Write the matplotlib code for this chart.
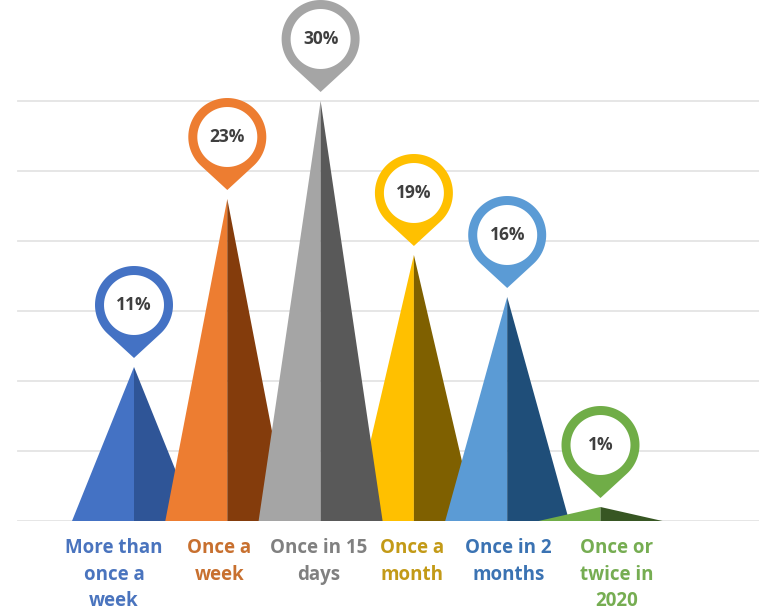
import numpy as np
import matplotlib.pyplot as plt
from matplotlib.patches import Polygon

plt.rcParams['font.family'] = ['Open Sans', 'DejaVu Sans']

categories = ["More than\nonce a\nweek", "Once a\nweek", "Once in 15\ndays",
              "Once a\nmonth", "Once in 2\nmonths", "Once or\ntwice in\n2020"]
shares = [11, 23, 30, 19, 16, 1]

light = ['#4472C4', '#ED7D31', '#A5A5A5', '#FFC000', '#5B9BD5', '#70AD47']
dark = ['#2F5597', '#843C0C', '#595959', '#7F6000', '#1F4E79', '#375623']
label_colors = ['#4A74BE', '#C8702F', '#808080', '#C39A17', '#3B73B3', '#76AD52']
layer = [1, 2, 4, 3, 5, 6]          # gray peak sits in front of its neighbours
label_nudge = [-20, -8, -2, -2, 1, 16]  # px

fig = plt.figure(figsize=(7.59, 6.15), dpi=100)
ax = fig.add_axes([0, 94 / 615, 1, 521 / 615])
ax.set_xlim(-134 / 93.3, (759 - 134) / 93.3)
ax.set_ylim(0, 521 / 14)
ax.axis('off')

# data units per pixel, so pins stay round
p0 = ax.transData.transform((0, 0))
p1 = ax.transData.transform((1, 1))
ux = 1 / (p1[0] - p0[0])
uy = 1 / (p1[1] - p0[1])

for v in range(0, 31, 5):
    ax.plot([-116 * ux, 8], [v, v], color='#E4E4E4', lw=1.3, zorder=0)

hw = 62 * ux
R_out, R_in, tip, gap = 39, 30, 53, 9

for i, (cat, val) in enumerate(zip(categories, shares)):
    z = layer[i]
    ax.add_patch(Polygon([(i - hw, 0), (i, val), (i, 0)], closed=True,
                         facecolor=light[i], edgecolor='none', zorder=z))
    ax.add_patch(Polygon([(i, 0), (i, val), (i + hw, 0)], closed=True,
                         facecolor=dark[i], edgecolor='none', zorder=z))

    # map pin above the peak
    cy = val + (gap + tip) * uy
    a = np.arccos(R_out / tip)
    t = np.linspace(-np.pi / 2 + a, 3 * np.pi / 2 - a, 80)
    px = np.concatenate([[0], R_out * np.cos(t), [0]])
    py = np.concatenate([[-tip], R_out * np.sin(t), [-tip]])
    ax.add_patch(Polygon(np.column_stack([i + px * ux, cy + py * uy]), closed=True,
                         facecolor=light[i], edgecolor='none', zorder=10))
    c = np.linspace(0, 2 * np.pi, 80)
    ax.add_patch(Polygon(np.column_stack([i + R_in * np.cos(c) * ux, cy + R_in * np.sin(c) * uy]),
                         closed=True, facecolor='white', edgecolor='none', zorder=11))
    ax.text(i, cy, f"{val}%", ha='center', va='center', fontsize=12.5,
            fontweight='bold', color='#3F3F3F', zorder=12)

    ax.text(i + label_nudge[i] * ux, -1.2, cat, ha='center', va='top', fontsize=13.5,
            fontweight='bold', color=label_colors[i], linespacing=1.45, clip_on=False)

fig.savefig('out.png', dpi=100)
